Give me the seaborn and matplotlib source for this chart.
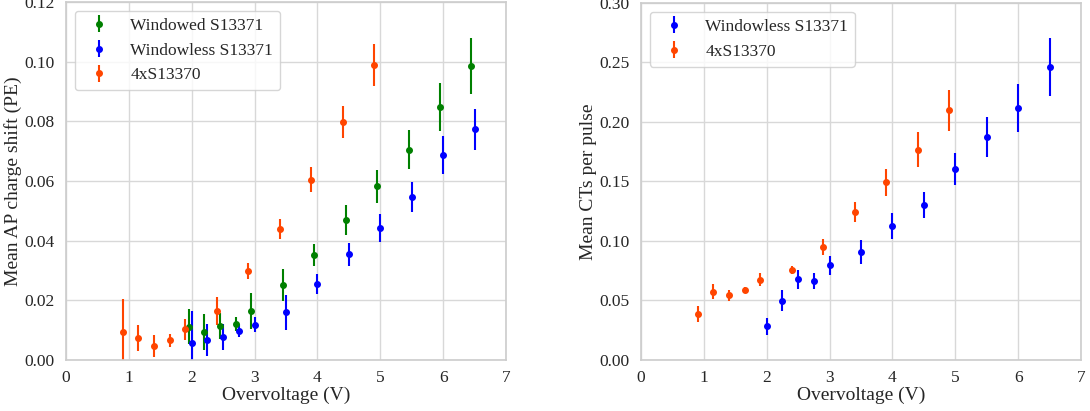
import numpy as np
import matplotlib
matplotlib.use("Agg")
import matplotlib.pyplot as plt
import seaborn as sns

# ---- data ----
# afterpulse charge shift (left panel)
ap_windowed_x = [1.95, 2.2, 2.45, 2.7, 2.95, 3.45, 3.95, 4.45, 4.95, 5.45, 5.95, 6.45]
ap_windowed_y = [0.0111, 0.0095, 0.0114, 0.0121, 0.0163, 0.0251, 0.0353, 0.0468, 0.0582, 0.0705, 0.0847, 0.0985]
ap_windowed_err = [0.0059, 0.0060, 0.0045, 0.0024, 0.0060, 0.0054, 0.0037, 0.0050, 0.0055, 0.0066, 0.0080, 0.0094]

ap_windowless_x = [2.0, 2.25, 2.5, 2.75, 3.0, 3.5, 4.0, 4.5, 5.0, 5.5, 6.0, 6.5]
ap_windowless_y = [0.0056, 0.0066, 0.0078, 0.0098, 0.0118, 0.0160, 0.0254, 0.0354, 0.0441, 0.0547, 0.0688, 0.0773]
ap_windowless_err = [0.0107, 0.0054, 0.0044, 0.0022, 0.0025, 0.0059, 0.0033, 0.0039, 0.0047, 0.0050, 0.0063, 0.0069]

ap_4x_x = [0.9, 1.15, 1.4, 1.65, 1.9, 2.4, 2.9, 3.4, 3.9, 4.4, 4.9]
ap_4x_y = [0.0095, 0.0074, 0.0046, 0.0066, 0.0103, 0.0164, 0.0298, 0.0438, 0.0604, 0.0798, 0.0989]
ap_4x_err = [0.0110, 0.0044, 0.0037, 0.0022, 0.0036, 0.0047, 0.0028, 0.0034, 0.0042, 0.0055, 0.0070]

# crosstalk per pulse (right panel)
ct_windowless_x = [2.0, 2.25, 2.5, 2.75, 3.0, 3.5, 4.0, 4.5, 5.0, 5.5, 6.0, 6.5]
ct_windowless_y = [0.0283, 0.0499, 0.0678, 0.0664, 0.0795, 0.0908, 0.1126, 0.1305, 0.1605, 0.1874, 0.2118, 0.2465]
ct_windowless_err = [0.0070, 0.0091, 0.0081, 0.0066, 0.0083, 0.0101, 0.0108, 0.0110, 0.0136, 0.0168, 0.0199, 0.0245]

ct_4x_x = [0.9, 1.15, 1.4, 1.65, 1.9, 2.4, 2.9, 3.4, 3.9, 4.4, 4.9]
ct_4x_y = [0.0389, 0.0574, 0.0543, 0.0588, 0.0675, 0.0759, 0.0950, 0.1244, 0.1493, 0.1767, 0.2098]
ct_4x_err = [0.0066, 0.0063, 0.0045, 0.0028, 0.0057, 0.0034, 0.0064, 0.0081, 0.0112, 0.0146, 0.0174]

# ---- styling ----
sns.set_theme(style="whitegrid", rc={
    "grid.color": "#d8d8d8",
    "axes.edgecolor": "#cccccc",
    "axes.linewidth": 1.2,
})
plt.rcParams['font.family'] = ['Liberation Serif', 'DejaVu Serif']
plt.rcParams['mathtext.fontset'] = 'stix'

fig = plt.figure(figsize=(10.9, 4.11), dpi=100)
ax1 = fig.add_axes([0.0606, 0.1241, 0.4036, 0.8710])
ax2 = fig.add_axes([0.5881, 0.1241, 0.4037, 0.8686])

eb_kw = dict(fmt='o', markersize=4, elinewidth=1.5, capsize=0)

ax1.errorbar(ap_windowed_x, ap_windowed_y, yerr=ap_windowed_err, color='green', label='Windowed S13371', **eb_kw)
ax1.errorbar(ap_windowless_x, ap_windowless_y, yerr=ap_windowless_err, color='blue', label='Windowless S13371', **eb_kw)
ax1.errorbar(ap_4x_x, ap_4x_y, yerr=ap_4x_err, color='orangered', label='4xS13370', **eb_kw)

ax2.errorbar(ct_windowless_x, ct_windowless_y, yerr=ct_windowless_err, color='blue', label='Windowless S13371', **eb_kw)
ax2.errorbar(ct_4x_x, ct_4x_y, yerr=ct_4x_err, color='orangered', label='4xS13370', **eb_kw)

ax1.set_xlim(0, 7)
ax1.set_ylim(0, 0.12)
ax1.set_yticks(np.arange(0, 0.121, 0.02))
ax1.set_ylabel('Mean AP charge shift (PE)', fontsize=14, labelpad=2)

ax2.set_xlim(0, 7)
ax2.set_ylim(0, 0.30)
ax2.set_yticks(np.arange(0, 0.301, 0.05))
ax2.set_ylabel('Mean CTs per pulse', fontsize=14, labelpad=2)

for ax in (ax1, ax2):
    ax.set_xlabel('Overvoltage (V)', fontsize=14, labelpad=1)
    ax.tick_params(labelsize=12.5, colors='#262626')
    ax.tick_params(axis='x', pad=1)
    ax.tick_params(axis='y', pad=2)
    ax.legend(loc='upper left', fontsize=12.5, frameon=True)

fig.savefig("out.png", dpi=100)
